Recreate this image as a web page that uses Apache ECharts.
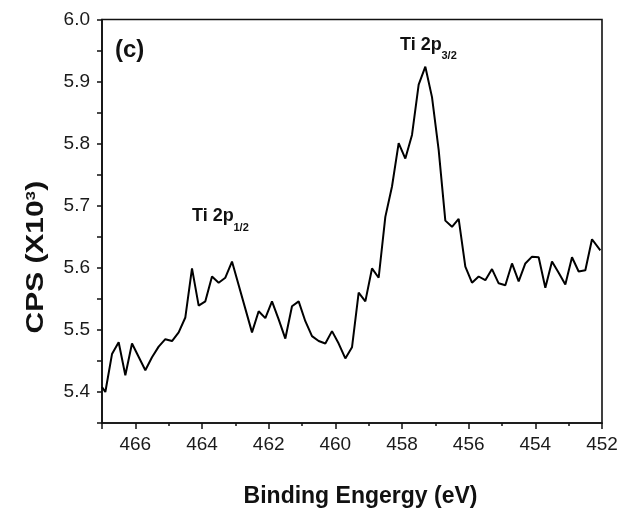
<!DOCTYPE html>
<html>
<head>
<meta charset="utf-8">
<script src="https://cdn.jsdelivr.net/npm/echarts@6/dist/echarts.min.js"></script>
<style>html,body{margin:0;padding:0;background:#fff;}#c{width:628px;height:518px;}</style>
</head>
<body>
<div id="c"></div>
<script>
var energy = [467.0, 466.9, 466.7, 466.5, 466.3, 466.1, 465.7, 465.5, 465.3, 465.1,
  464.9, 464.7, 464.5, 464.3, 464.1, 463.9, 463.7, 463.5, 463.3, 463.1,
  462.5, 462.3, 462.1, 461.9, 461.7, 461.5, 461.3, 461.1, 460.9, 460.7,
  460.5, 460.3, 460.1, 459.9, 459.7, 459.5, 459.3, 459.1, 458.9, 458.7,
  458.5, 458.3, 458.1, 457.9, 457.7, 457.5, 457.3, 457.1, 456.9, 456.7,
  456.5, 456.3, 456.1, 455.9, 455.7, 455.5, 455.3, 455.1, 454.9, 454.7,
  454.5, 454.3, 454.1, 453.9, 453.7, 453.5, 453.3, 453.1, 452.9, 452.7,
  452.5, 452.3, 452.05];
var cps = [5.408, 5.400, 5.461, 5.480, 5.427, 5.478, 5.435, 5.456, 5.473, 5.485,
  5.482, 5.496, 5.520, 5.599, 5.539, 5.546, 5.586, 5.576, 5.584, 5.610,
  5.496, 5.530, 5.519, 5.546, 5.517, 5.486, 5.538, 5.546, 5.514, 5.490,
  5.482, 5.478, 5.498, 5.478, 5.454, 5.472, 5.560, 5.546, 5.599, 5.584,
  5.682, 5.731, 5.801, 5.776, 5.814, 5.895, 5.924, 5.875, 5.790, 5.676,
  5.666, 5.679, 5.602, 5.576, 5.586, 5.580, 5.598, 5.575, 5.572, 5.607,
  5.578, 5.607, 5.618, 5.617, 5.568, 5.610, 5.592, 5.573, 5.617, 5.594,
  5.596, 5.646, 5.628];
var xTickLabels = ['452', '454', '456', '458', '460', '462', '464', '466'];
var yTickLabels = ['5.4', '5.5', '5.6', '5.7', '5.8', '5.9', '6.0'];

var FONT = '"Liberation Sans", Arial, Helvetica, sans-serif';
var data = energy.map(function (e, i) { return [e, cps[i]]; });

var chart = echarts.init(document.getElementById('c'), null, {renderer: 'canvas'});
chart.setOption({
  animation: false,
  backgroundColor: '#fff',
  grid: {left: 102, right: 26, top: 19.5, bottom: 95, show: true, borderColor: '#111', borderWidth: 1.6, backgroundColor: 'transparent'},
  xAxis: [{
    type: 'value', min: 452, max: 467, interval: 2, inverse: true,
    axisLine: {lineStyle: {color: '#111', width: 1.6}},
    axisTick: {inside: false, length: 6, lineStyle: {color: '#111', width: 1.5}},
    splitLine: {show: false},
    axisLabel: {
      margin: 12, color: '#1a1a1a', fontSize: 19, fontFamily: FONT,
      formatter: function (v) { var s = String(Math.round(v)); return xTickLabels.indexOf(s) >= 0 ? s : ''; }
    }
  }, {
    type: 'value', min: 452, max: 467, interval: 1, inverse: true, position: 'bottom',
    axisLine: {show: false},
    axisTick: {inside: false, length: 3, lineStyle: {color: '#111', width: 1.5}},
    splitLine: {show: false},
    axisLabel: {show: false}
  }],
  yAxis: [{
    type: 'value', min: 5.35, max: 6.0, interval: 0.05,
    axisLine: {show: true, lineStyle: {color: '#111', width: 1.6}},
    axisTick: {show: true, inside: false, length: 5, lineStyle: {color: '#111', width: 1.5}},
    splitLine: {show: false},
    axisLabel: {
      margin: 12, color: '#1a1a1a', fontSize: 19, fontFamily: FONT,
      formatter: function (v) { var s = v.toFixed(1); return (Math.abs(v * 10 - Math.round(v * 10)) < 1e-6 && yTickLabels.indexOf(s) >= 0) ? s : ''; }
    }
  }],
  series: [{
    type: 'line', xAxisIndex: 0, yAxisIndex: 0, data: data,
    showSymbol: false, symbol: 'none',
    lineStyle: {color: '#000', width: 2},
    clip: true
  }],
  graphic: [
    {type: 'text', left: 115, top: 38, style: {text: '(c)', font: 'bold 24px ' + FONT, fill: '#111'}},
    {type: 'text', x: 192, y: 216.5, style: {text: 'Ti 2p', font: 'bold 18px ' + FONT, fill: '#111', verticalAlign: 'middle'}},
    {type: 'text', x: 233.5, y: 228, style: {text: '1/2', font: 'bold 11px ' + FONT, fill: '#111', verticalAlign: 'middle'}},
    {type: 'text', x: 400, y: 45, style: {text: 'Ti 2p', font: 'bold 18px ' + FONT, fill: '#111', verticalAlign: 'middle'}},
    {type: 'text', x: 441.5, y: 56, style: {text: '3/2', font: 'bold 11px ' + FONT, fill: '#111', verticalAlign: 'middle'}},
    {type: 'text', x: 360.5, y: 497, style: {text: 'Binding Engergy (eV)', font: 'bold 23px ' + FONT, fill: '#111', align: 'center', verticalAlign: 'middle'}},
    {type: 'group', x: 37, y: 257, rotation: Math.PI / 2, scaleX: 1.3, scaleY: 1, children: [
      {type: 'text', x: 43.5, y: 0, style: {text: 'CPS (X10', font: 'bold 23px ' + FONT, fill: '#111', align: 'right', verticalAlign: 'middle'}},
      {type: 'text', x: 43.5, y: -6, style: {text: '3', font: 'bold 13px ' + FONT, fill: '#111', align: 'left', verticalAlign: 'middle'}},
      {type: 'text', x: 51, y: 0, style: {text: ')', font: 'bold 23px ' + FONT, fill: '#111', align: 'left', verticalAlign: 'middle'}}
    ]}
  ]
});
</script>
</body>
</html>
